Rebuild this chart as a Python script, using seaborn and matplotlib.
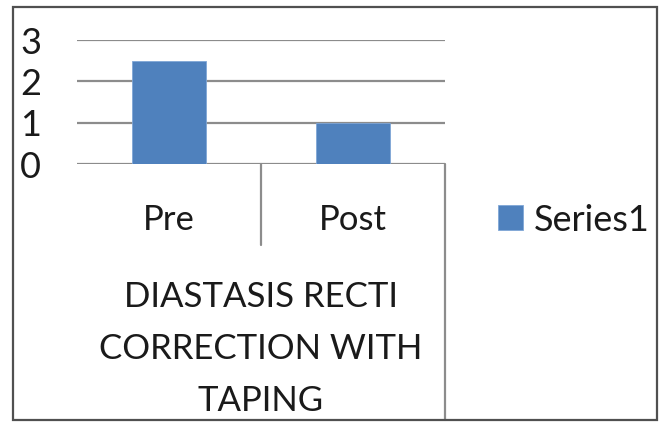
import matplotlib
matplotlib.use("Agg")
import matplotlib.pyplot as plt
import matplotlib.transforms as mtransforms
import seaborn as sns
import pandas as pd
from matplotlib.patches import Rectangle

categories = ["Pre", "Post"]
values = [2.5, 1.0]
series_name = "Series1"
group_label = "DIASTASIS RECTI\nCORRECTION WITH\nTAPING"
yticks = [0, 1, 2, 3]

sns.set_theme(style="white")
plt.rcParams['font.family'] = ['Lato', 'DejaVu Sans']

W, H = 667, 422
fig = plt.figure(figsize=(W / 100, H / 100), dpi=100)
fig.patch.set_facecolor("white")

def fx(px):
    return px / W

def fy(py):
    return 1 - py / H

# plot area: x 77..445 px, y 40..164 px
ax = fig.add_axes([fx(77), fy(164), fx(445) - fx(77), fy(40) - fy(164)])

df = pd.DataFrame({"cat": categories, "val": values})
bar_color = "#4F81BD"
sns.barplot(data=df, x="cat", y="val", color=bar_color, width=0.4, saturation=1,
            ax=ax, label=series_name, zorder=3, edgecolor="#7FA6D6", linewidth=0.6)

ax.set_xlim(-0.5, 1.5)
ax.set_ylim(0, 3)
ax.set_yticks(yticks)
ax.set_yticklabels([str(t) for t in yticks])
ax.set_xlabel("")
ax.set_ylabel("")
for s in ax.spines.values():
    s.set_visible(False)
grid_c = "#8C8C8C"
for t in yticks:
    ax.axhline(t, color=grid_c, lw=1.6, zorder=1)

fs = 25
txt_c = "#1a1a1a"
ax.tick_params(axis="y", length=0, pad=0, labelsize=fs + 1, labelcolor=txt_c)
offset = mtransforms.ScaledTranslation((20 - 77) / 100, 0, fig.dpi_scale_trans)
for lab in ax.get_yticklabels():
    lab.set_horizontalalignment("left")
    lab.set_verticalalignment("center_baseline")
    lab.set_transform(lab.get_transform() + offset)

ax.set_xticks([0, 1])
ax.set_xticklabels(categories)
ax.tick_params(axis="x", length=0, pad=29, labelsize=fs, labelcolor=txt_c)

# multi-level category axis lines
trans = ax.get_xaxis_transform()
axis_h = 164 - 40
ax.plot([0.5, 0.5], [0, -(245 - 164) / axis_h], transform=trans, color=grid_c, lw=1.6, clip_on=False)
ax.plot([1.5, 1.5], [0, -(420 - 164) / axis_h], transform=trans, color=grid_c, lw=1.6, clip_on=False)

ax.text(0.5, -(411 - 164) / axis_h, group_label, transform=trans, ha="center", va="baseline",
        fontsize=fs, color=txt_c, linespacing=1.76, multialignment="center")

# legend
handle = Rectangle((0, 0), 1, 1, facecolor=bar_color, edgecolor="#7FA6D6", lw=0.6)
fig.legend([handle], [series_name], loc="center left",
           bbox_to_anchor=(fx(498), fy(220)), frameon=False, fontsize=fs + 1,
           handlelength=0.68, handleheight=0.68, handletextpad=0.3, borderpad=0,
           borderaxespad=0, labelcolor=txt_c)
if ax.get_legend() is not None:
    ax.get_legend().remove()

# outer border
fig.patches.append(Rectangle((fx(13), fy(420)), fx(657) - fx(13), fy(7) - fy(420),
                             transform=fig.transFigure, fill=False, edgecolor="#505050", lw=1.6))

fig.savefig("out.png", dpi=100)
